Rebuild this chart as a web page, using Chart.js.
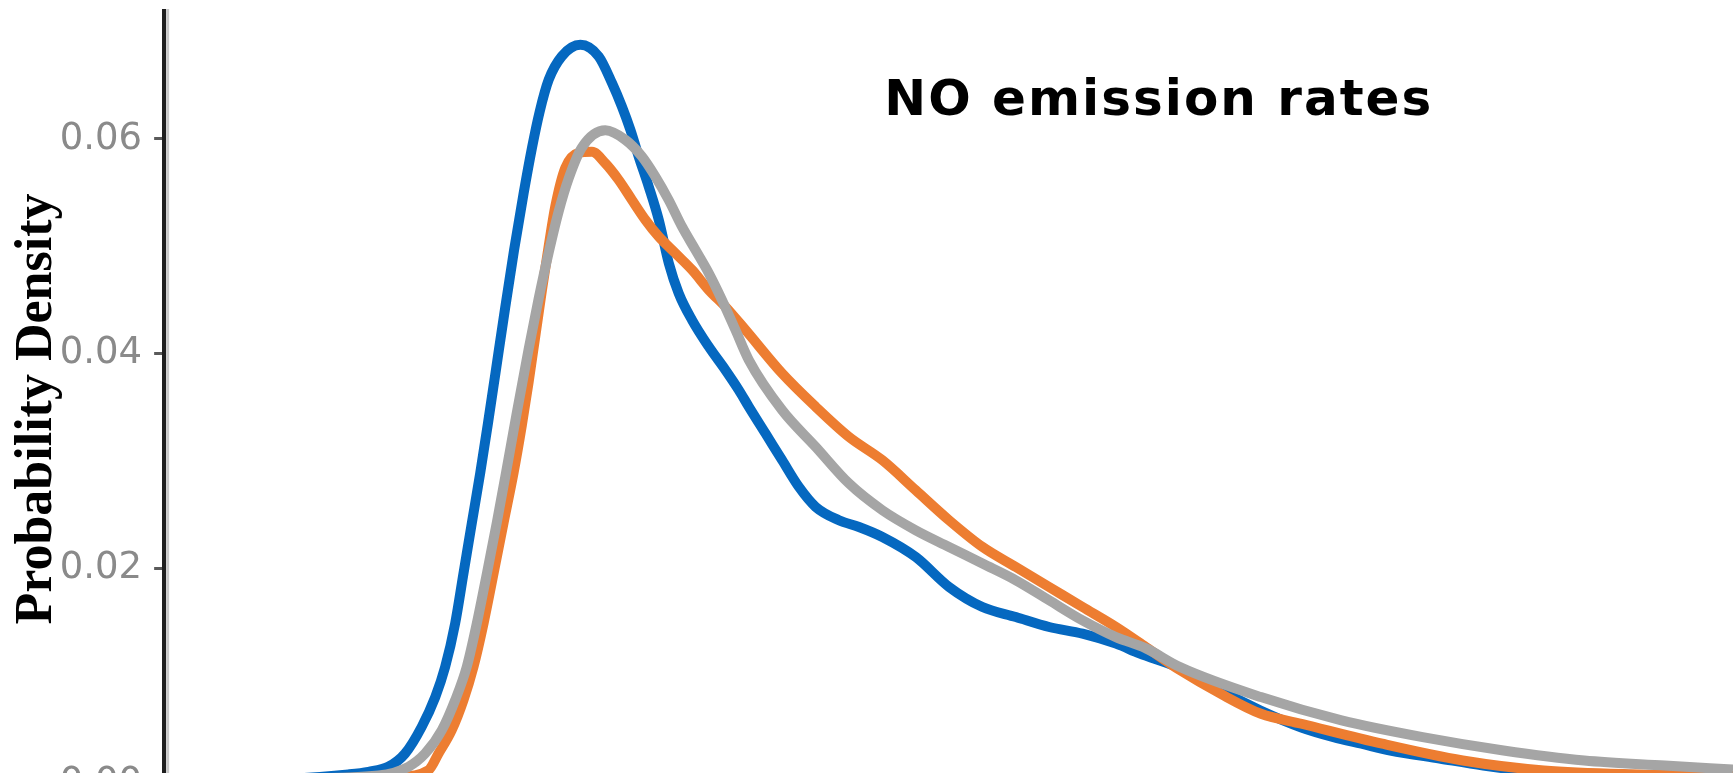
<!DOCTYPE html>
<html>
<head>
<meta charset="utf-8">
<script src="https://cdn.jsdelivr.net/npm/chart.js@4"></script>
<style>
    html, body { margin: 0; padding: 0; background: #fff; overflow: hidden; }
    #wrap { position: absolute; left: 0; top: 9px; width: 1733px; height: 774px; }
</style>
</head>
<body>
<div id="wrap"><canvas id="densityChart" width="1733" height="774"></canvas></div>
<script>
// x is an unlabeled emission-rate axis (arbitrary units, 0..100 across the visible plot)
const blueX = [0, 7.9, 11.74, 13.02, 14.29, 15.36, 16.42, 17.28, 17.91, 18.55, 19.08, 19.61, 20.15, 20.64, 21.12,
    21.74, 22.30, 22.91, 23.45, 23.93, 24.51, 25.35, 26.53, 27.70, 28.55, 29.18, 29.72, 30.25, 30.89, 31.53,
    32.17, 32.80, 33.65, 34.72, 35.78, 36.63, 37.27, 38.33, 39.39, 40.46, 41.53, 43.01, 44.29, 45.78, 47.91,
    50.03, 52.16, 54.29, 56.41, 58.54, 60.67, 62.16, 64.77, 67.33, 69.88, 72.49, 74.54, 76.32, 78.16, 81.30,
    84.08, 86.66, 91.51, 100]
const blueY = [0.0001, 0.0004, 0.0008, 0.00104, 0.00151, 0.00275, 0.00524, 0.0080, 0.0108, 0.01487, 0.01953, 0.0242,
    0.0289, 0.0335, 0.0382, 0.0443, 0.0496, 0.0549, 0.0592, 0.0625, 0.0655, 0.0677, 0.06876, 0.06767,
    0.06519, 0.06301, 0.06084, 0.05835, 0.05555, 0.05245, 0.04841, 0.04561, 0.04312, 0.04063, 0.03846, 0.0366,
    0.03504, 0.03256, 0.03007, 0.02758, 0.02572, 0.02448, 0.02385, 0.02292, 0.02105, 0.01826, 0.01639, 0.01546,
    0.01453, 0.01391, 0.01298, 0.01207, 0.01068, 0.00862, 0.00676, 0.00517, 0.00427, 0.00366, 0.00303, 0.00228,
    0.00163, 0.00117, 0.00084, 0.00061]

const orangeX = [0, 7.9, 14.93, 16.85, 17.49, 18.33, 19.08, 19.72, 20.36, 21.00, 21.63, 22.27, 22.80, 23.23, 24.08,
    24.51, 24.93, 25.57, 26.42, 27.27, 28.12, 28.97, 29.82, 30.68, 31.53, 32.59, 33.65, 34.72, 35.78, 37.06,
    39.39, 41.53, 43.65, 45.78, 47.91, 50.03, 52.16, 54.29, 56.41, 58.54, 60.67, 62.58, 64.77, 67.33, 69.91,
    72.49, 77.64, 82.77, 87.94, 94.07, 100]
const orangeY = [0.0001, 0.0004, 0.0006, 0.00119, 0.00275, 0.00492, 0.00772, 0.01083, 0.01487, 0.01953, 0.0242,
    0.02886, 0.0333, 0.0373, 0.0459, 0.0500, 0.0537, 0.0573, 0.0587, 0.0588, 0.05773, 0.05618, 0.05431,
    0.05245, 0.05089, 0.04934, 0.04779, 0.04592, 0.04436, 0.04219, 0.03815, 0.03504, 0.03224, 0.03007, 0.02727,
    0.02448, 0.02199, 0.02012, 0.01826, 0.01639, 0.01453, 0.01266, 0.01049, 0.00832, 0.00645, 0.00552, 0.00366,
    0.0021, 0.00117, 0.00079, 0.00065]

const grayX = [0, 7.9, 13.66, 15.57, 16.64, 17.70, 18.55, 19.29, 19.93, 20.57, 21.21, 21.74, 22.48, 23.23,
    23.87, 24.51, 25.14, 25.78, 26.63, 28.12, 29.40, 30.46, 31.31, 32.16, 33.01, 33.87, 34.72, 35.56, 36.42,
    37.27, 39.39, 41.53, 43.65, 45.78, 47.91, 50.03, 52.16, 54.29, 56.41, 58.54, 60.67, 62.58, 64.75, 69.91,
    75.05, 80.22, 85.37, 90.52, 95.66, 100]
const grayY = [0.0001, 0.0004, 0.0007, 0.00151, 0.00275, 0.00492, 0.00772, 0.01083, 0.01487, 0.0195, 0.0243,
    0.0285, 0.0345, 0.0404, 0.0451, 0.0494, 0.0532, 0.0563, 0.0592, 0.0608, 0.05991, 0.05835,
    0.05649, 0.05431, 0.05182, 0.04965, 0.04748, 0.04499, 0.04219, 0.03939, 0.03473, 0.03131, 0.0279, 0.02541,
    0.02354, 0.02199, 0.02044, 0.01888, 0.01702, 0.01515, 0.01359, 0.01254, 0.0108, 0.008, 0.00583, 0.00427,
    0.00303, 0.0021, 0.00163, 0.00126]

const yTickValues = [0, 0.02, 0.04, 0.06]
const yTitle = 'Probability Density  '
const panelTitle = 'NO emission rates'

function toPoints(xs, ys) {
    return xs.map((x, i) => ({x: x, y: ys[i]}))
}

// panel title inside the plot + the light edge next to the axis line
const panelTitlePlugin = {
    id: 'panelTitle',
    afterDraw(chart) {
        const {ctx, chartArea: a} = chart
        ctx.save()
        ctx.strokeStyle = '#c9c9c9'
        ctx.lineWidth = 3
        ctx.beginPath()
        ctx.moveTo(a.left + 3.5, a.top)
        ctx.lineTo(a.left + 3.5, a.bottom)
        ctx.stroke()

        ctx.font = 'bold 50px "DejaVu Sans"'
        if ('letterSpacing' in ctx) ctx.letterSpacing = '2px'
        ctx.fillStyle = '#000'
        ctx.textAlign = 'center'
        ctx.textBaseline = 'alphabetic'
        ctx.fillText(panelTitle, a.left + a.width * 0.634, a.top + a.height * 0.137)
        ctx.restore()
    }
}

const line = (data, color, order) => ({
    data: data,
    borderColor: color,
    borderWidth: 10,
    pointRadius: 0,
    fill: false,
    cubicInterpolationMode: 'monotone',
    order: order,
})

new Chart(document.getElementById('densityChart'), {
    type: 'line',
    data: {
        datasets: [
            line(toPoints(blueX, blueY), '#0568c0', 2),
            line(toPoints(orangeX, orangeY), '#ed7d31', 1),
            line(toPoints(grayX, grayY), '#a5a5a5', 0),
        ]
    },
    options: {
        responsive: false,
        animation: false,
        layout: {padding: 0},
        plugins: {
            legend: {display: false},
            tooltip: {enabled: false},
        },
        scales: {
            x: {
                type: 'linear',
                min: 0,
                max: 100,
                display: false,
            },
            y: {
                min: 0,
                max: 0.0721,
                afterBuildTicks: scale => {
                    scale.ticks = yTickValues.map(v => ({value: v}))
                },
                // the plot is cropped top and bottom, so no room kept for half labels
                afterFit: scale => {
                    scale.paddingTop = 0
                    scale.paddingBottom = 0
                },
                ticks: {
                    callback: v => v.toFixed(2),
                    color: '#8a8a8a',
                    padding: 12,
                    font: {family: '"DejaVu Sans"', size: 37},
                },
                grid: {
                    drawOnChartArea: false,
                    drawTicks: true,
                    tickLength: 10,
                    tickColor: '#5a5a5a',
                    tickWidth: 3,
                },
                border: {
                    display: true,
                    color: '#1e1e1e',
                    width: 4,
                },
                title: {
                    display: true,
                    text: yTitle,
                    color: '#000',
                    padding: {top: 28, bottom: 0},
                    font: {family: '"Liberation Serif"', size: 52, weight: 'bold', lineHeight: 0.38},
                },
            },
        },
    },
    plugins: [panelTitlePlugin],
})
</script>
</body>
</html>
